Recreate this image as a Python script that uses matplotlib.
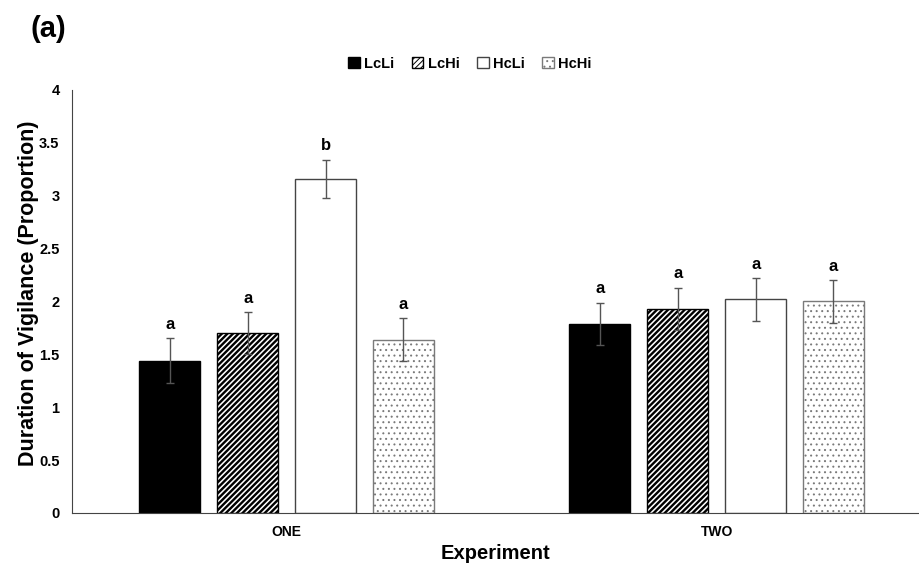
import numpy as np
import matplotlib
matplotlib.use("Agg")
import matplotlib.pyplot as plt

plt.rcParams['font.family'] = ['Liberation Sans', 'DejaVu Sans']

experiments = ["ONE", "TWO"]
treatments = ["LcLi", "LcHi", "HcLi", "HcHi"]
means = {
    "LcLi": [1.44, 1.79],
    "LcHi": [1.70, 1.93],
    "HcLi": [3.16, 2.02],
    "HcHi": [1.64, 2.00],
}
errors = {
    "LcLi": [0.21, 0.20],
    "LcHi": [0.20, 0.20],
    "HcLi": [0.18, 0.20],
    "HcHi": [0.20, 0.20],
}
letters = {
    "LcLi": ["a", "a"],
    "LcHi": ["a", "a"],
    "HcLi": ["b", "a"],
    "HcHi": ["a", "a"],
}
yticks = [0, 0.5, 1, 1.5, 2, 2.5, 3, 3.5, 4]

styles = {
    "LcLi": dict(color="black", edgecolor="black", hatch=None),
    "LcHi": dict(color="white", edgecolor="black", hatch="//////"),
    "HcLi": dict(color="white", edgecolor="#444444", hatch=None),
    "HcHi": dict(color="white", edgecolor="#7a7a7a", hatch="..."),
}
hatch_lw = {"LcLi": 1.0, "LcHi": 1.7, "HcLi": 1.0, "HcHi": 0.7}

fig = plt.figure(figsize=(9.2, 5.74), dpi=100)
ax = fig.add_axes([0.0783, 0.1063, 0.92, 0.737])

x = np.arange(len(experiments))
width = 0.142
step = 0.181
for i, t in enumerate(treatments):
    pos = x + (i - 1.5) * step
    plt.rcParams['hatch.linewidth'] = hatch_lw[t]
    ax.bar(pos, means[t], width, linewidth=1.0, label=t, **styles[t])
    ax.errorbar(pos, means[t], yerr=errors[t], fmt="none", ecolor="#555555",
                elinewidth=1.0, capsize=3, capthick=1.0)
    for p, m, e, l in zip(pos, means[t], errors[t], letters[t]):
        ax.text(p, m + e + 0.06, l, ha="center", va="bottom", fontsize=12, fontweight="bold")

ax.set_xlim(-0.499, 1.469)
ax.set_ylim(0, 4)
ax.set_yticks(yticks)
ax.set_yticklabels([f"{v:g}" for v in yticks], fontsize=10.5, fontweight="bold")
ax.set_xticks(x)
ax.set_xticklabels(experiments, fontsize=10, fontweight="bold")
ax.tick_params(length=0, pad=9)
for s in ["top", "right"]:
    ax.spines[s].set_visible(False)
ax.spines["left"].set_color("#444444")
ax.spines["bottom"].set_color("#444444")

ax.set_ylabel("Duration of Vigilance (Proportion)", fontsize=15.5, fontweight="bold", labelpad=0)
ax.yaxis.set_label_coords(-0.039, 0.52)
ax.set_xlabel("Experiment", fontsize=14.5, fontweight="bold", labelpad=3)

ax.legend(loc="upper center", bbox_to_anchor=(0.47, 1.11), ncol=4, frameon=False,
          handlelength=0.8, handleheight=0.8, handletextpad=0.3, columnspacing=1.2,
          prop={"weight": "bold", "size": 10.5})

fig.text(0.033, 0.935, "(a)", fontsize=21, fontweight="bold")

fig.savefig("out.png", dpi=100)
